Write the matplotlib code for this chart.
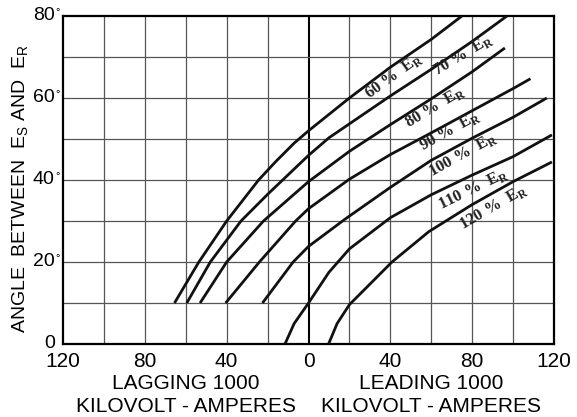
import matplotlib
matplotlib.use("Agg")
import matplotlib.pyplot as plt
from matplotlib.transforms import blended_transform_factory, offset_copy

plt.rcParams['font.family'] = ['Liberation Sans', 'DejaVu Sans']
plt.rcParams['mathtext.fontset'] = 'custom'
plt.rcParams['mathtext.rm'] = 'Liberation Sans'

# receiving-end kVA in thousands (negative = lagging), angle between Es and Er in degrees
kva_60 = [-65.5, -53.6, -40, -24.4, -16, -7, 0, 20, 40, 60, 75]
ang_60 = [10, 20, 30, 40, 44.5, 49, 52, 60, 67.5, 74.3, 80]
kva_70 = [-59.5, -48, -33, -20, 0, 10, 40, 60, 80, 97]
ang_70 = [10, 20, 30, 36.5, 46, 50.3, 60.5, 67, 73.8, 80]
kva_80 = [-53, -40, -22, 0, 20, 40, 60, 80, 96]
ang_80 = [10, 20, 30, 39.6, 47, 53.5, 59.8, 66.4, 72.2]
kva_90 = [-40.5, -24, -6.3, 0, 20, 40, 60, 80, 100, 108.5]
ang_90 = [10, 20, 30, 33, 40.2, 46.2, 51.5, 56.9, 62.3, 64.7]
kva_100 = [-22.5, -7.5, 0, 18, 40, 60, 80, 100, 116.5]
ang_100 = [10, 20, 23.8, 30.5, 38.2, 44.8, 50.2, 55.3, 60]
kva_110 = [-11.5, -7, 0, 10, 20, 40, 60, 80, 100, 119]
ang_110 = [0, 5, 10, 17.5, 23.2, 30.8, 36.4, 41.2, 45.7, 51]
kva_120 = [9.8, 14, 20, 40.8, 58.8, 80, 100, 119]
ang_120 = [0, 5, 9.6, 20, 27.4, 34, 39.6, 44.4]

curve_pcts = ['60', '70', '80', '90', '100', '110', '120']
curve_kva = [kva_60, kva_70, kva_80, kva_90, kva_100, kva_110, kva_120]
curve_ang = [ang_60, ang_70, ang_80, ang_90, ang_100, ang_110, ang_120]

# where each curve label sits, and its slant
label_pos = [(41.8, 65.4), (75.5, 70.6), (61.8, 57.8), (69.2, 52.0),
             (75.5, 46.2), (80.4, 37.8), (90.2, 33.4)]
label_rot = [36, 31, 31, 29, 29, 26, 30]

xticks = [-120, -80, -40, 0, 40, 80, 120]
xtick_labels = ['120', '80', '40', '0', '40', '80', '120']
yticks = [0, 20, 40, 60, 80]

fig = plt.figure(figsize=(5.77, 4.17), dpi=100)
ax = fig.add_axes([63 / 577, 73 / 417, 491 / 577, 328 / 417])

ax.set_xlim(-120, 120)
ax.set_ylim(0, 80)

for gx in range(-100, 101, 20):
    ax.axvline(gx, color='black' if gx == 0 else '#555555',
               lw=1.5 if gx == 0 else 0.9, zorder=1)
for gy in range(10, 80, 10):
    ax.axhline(gy, color='#555555', lw=0.9, zorder=1)

for kva, ang in zip(curve_kva, curve_ang):
    ax.plot(kva, ang, color='#111111', lw=2.0, solid_capstyle='butt',
            solid_joinstyle='round', zorder=3)

for pct, (lx, ly), rot in zip(curve_pcts, label_pos, label_rot):
    ax.text(lx, ly, pct + r' %  E$_{\mathregular{R}}$', rotation=rot,
            rotation_mode='anchor', ha='center', va='center',
            family=['Liberation Serif', 'DejaVu Serif'], fontsize=12,
            fontweight='bold', color='#222222', zorder=4)

for sp in ax.spines.values():
    sp.set_linewidth(1.6)
    sp.set_color('black')

ax.set_xticks(xticks)
ax.set_xticklabels(xtick_labels, fontsize=15)
ax.set_yticks([])
ax.tick_params(axis='x', length=0, pad=6)

# y tick labels with small degree marks
ytrans = blended_transform_factory(ax.transAxes, ax.transData)
for yv in yticks:
    t_num = offset_copy(ytrans, fig=fig, x=-6, y=0, units='points')
    ax.text(0, yv, str(yv), transform=t_num, ha='right', va='center', fontsize=14)
    if yv > 0:
        t_deg = offset_copy(ytrans, fig=fig, x=-5.5, y=3, units='points')
        ax.text(0, yv, '°', transform=t_deg, ha='left', va='center', fontsize=8)

ax.text(-60, -9.6, 'LAGGING 1000', ha='center', va='center', fontsize=15, clip_on=False)
ax.text(-60, -15.3, 'KILOVOLT - AMPERES', ha='center', va='center', fontsize=15, clip_on=False)
ax.text(60, -9.6, 'LEADING 1000', ha='center', va='center', fontsize=15, clip_on=False)
ax.text(60, -15.3, 'KILOVOLT - AMPERES', ha='center', va='center', fontsize=15, clip_on=False)

fig.text(21 / 577, 1 - 189 / 417, r'ANGLE  BETWEEN  E$_{\mathregular{S}}$ AND  E$_{\mathregular{R}}$',
         rotation=90, ha='center', va='center', fontsize=14)

fig.savefig('out.png', dpi=100, facecolor='white')
